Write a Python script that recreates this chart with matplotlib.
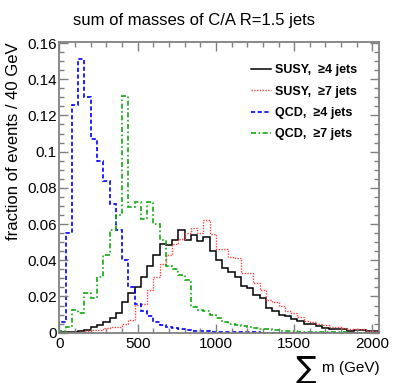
import numpy as np
import matplotlib
matplotlib.use("Agg")
import matplotlib.pyplot as plt
from matplotlib.ticker import MultipleLocator, FormatStrFormatter

plt.rcParams['font.family'] = ['Liberation Sans', 'DejaVu Sans']

# 40 GeV bins from 0 to 2040 GeV
edges = np.arange(0, 2041, 40)

susy4 = [0.0002, 0.0004, 0.0006, 0.001, 0.0015, 0.003, 0.004, 0.006, 0.008, 0.011,
         0.017, 0.022, 0.025, 0.031, 0.037, 0.043, 0.049, 0.0485, 0.051, 0.057,
         0.051, 0.054, 0.0507, 0.053, 0.045, 0.040, 0.0356, 0.0337, 0.031, 0.026,
         0.0245, 0.021, 0.019, 0.0135, 0.012, 0.010, 0.009, 0.0074, 0.0065, 0.005,
         0.0046, 0.0037, 0.0028, 0.0022, 0.0022, 0.0019, 0.0011, 0.0015, 0.0015, 0.001,
         0.0008]
susy7 = [0.0002, 0.0003, 0.0004, 0.0005, 0.001, 0.0015, 0.0015, 0.0028, 0.0033, 0.0033,
         0.005, 0.007, 0.0153, 0.016, 0.0236, 0.031, 0.038, 0.043, 0.049, 0.0516,
         0.055, 0.0577, 0.055, 0.062, 0.0546, 0.046, 0.046, 0.042, 0.041, 0.0328,
         0.0328, 0.0273, 0.0236, 0.018, 0.017, 0.0148, 0.0122, 0.0107, 0.0085, 0.0066,
         0.006, 0.0048, 0.0043, 0.0033, 0.0033, 0.0024, 0.0019, 0.0019, 0.0019, 0.0011,
         0.0008]
qcd4 = [0.006, 0.055, 0.126, 0.151, 0.130, 0.107, 0.095, 0.084, 0.071, 0.057,
        0.040, 0.025, 0.016, 0.012, 0.009, 0.006, 0.004, 0.003, 0.0025, 0.002,
        0.0015, 0.0012, 0.001, 0.0008, 0.0006, 0.0005, 0.0004, 0.0003, 0.0003, 0.0002,
        0.0002, 0.0002, 0.0001, 0.0001, 0.0001, 0.0001, 0.0001, 0.0, 0.0, 0.0,
        0.0, 0.0, 0.0, 0.0, 0.0, 0.0, 0.0, 0.0, 0.0, 0.0,
        0.0]
qcd7 = [0.001, 0.003, 0.0125, 0.011, 0.022, 0.019, 0.031, 0.043, 0.057, 0.065,
        0.131, 0.0697, 0.072, 0.063, 0.072, 0.060, 0.051, 0.037, 0.035, 0.032,
        0.029, 0.0144, 0.0125, 0.012, 0.0098, 0.008, 0.006, 0.005, 0.004, 0.0035,
        0.003, 0.0025, 0.002, 0.002, 0.0015, 0.0012, 0.001, 0.0008, 0.0006, 0.0005,
        0.0004, 0.0003, 0.0003, 0.0002, 0.0002, 0.0002, 0.0001, 0.0001, 0.0001, 0.0001,
        0.0001]

labels = ["SUSY,  \u22654 jets", "SUSY,  \u22657 jets", "QCD,  \u22654 jets", "QCD,  \u22657 jets"]

fig = plt.figure(figsize=(3.99, 3.83), dpi=100)
ax = fig.add_axes([0.149, 0.1313, 0.80, 0.7583])

ax.stairs(susy4, edges, color='black', lw=1.1, label=labels[0])
ax.stairs(susy7, edges, color='#ff4444', lw=1.0, ls=(0, (1, 1)), label=labels[1])
ax.stairs(qcd4, edges, color='#0000ff', lw=1.2, ls=(0, (2.5, 1.5)), label=labels[2])
ax.stairs(qcd7, edges, color='#11aa11', lw=1.2, ls=(0, (3, 1.5, 1, 1.5)), label=labels[3])

ax.set_xlim(0, 2040)
ax.set_ylim(0, 0.1604)

ax.xaxis.set_major_locator(MultipleLocator(500))
ax.xaxis.set_minor_locator(MultipleLocator(100))
ax.yaxis.set_major_locator(MultipleLocator(0.02))
ax.yaxis.set_minor_locator(MultipleLocator(0.005))
ax.yaxis.set_major_formatter(FormatStrFormatter('%g'))

grey = '#808080'
for s in ax.spines.values():
    s.set_color(grey)
    s.set_linewidth(1.3)
ax.tick_params(which='both', direction='in', top=True, right=True, color=grey,
               labelsize=11, width=1.0)
ax.tick_params(which='major', length=6.5, pad=3)
ax.tick_params(which='minor', length=3.3)
ax.tick_params(axis='y', pad=2)

fig.text(0.486, 1 - 25 / 383, "sum of masses of C/A R=1.5 jets", ha='center',
         va='baseline', fontsize=12)
fig.text(0.035, 0.889, "fraction of events / 40 GeV", rotation=90, ha='center',
         va='top', fontsize=12)
fig.text(0.952, 0.029, "m (GeV)", ha='right', va='baseline', fontsize=11)
fig.text(0.767, 0.036, "\u2211", ha='center', va='center', fontsize=22,
         family='DejaVu Sans')

leg = ax.legend(loc='upper left', bbox_to_anchor=(0.629, 0.832),
                bbox_transform=fig.transFigure, frameon=False,
                prop={'weight': 'bold', 'size': 9}, handlelength=1.6,
                handletextpad=0.3, labelspacing=0.75, borderpad=0, borderaxespad=0)

fig.savefig("out.png", dpi=100)
